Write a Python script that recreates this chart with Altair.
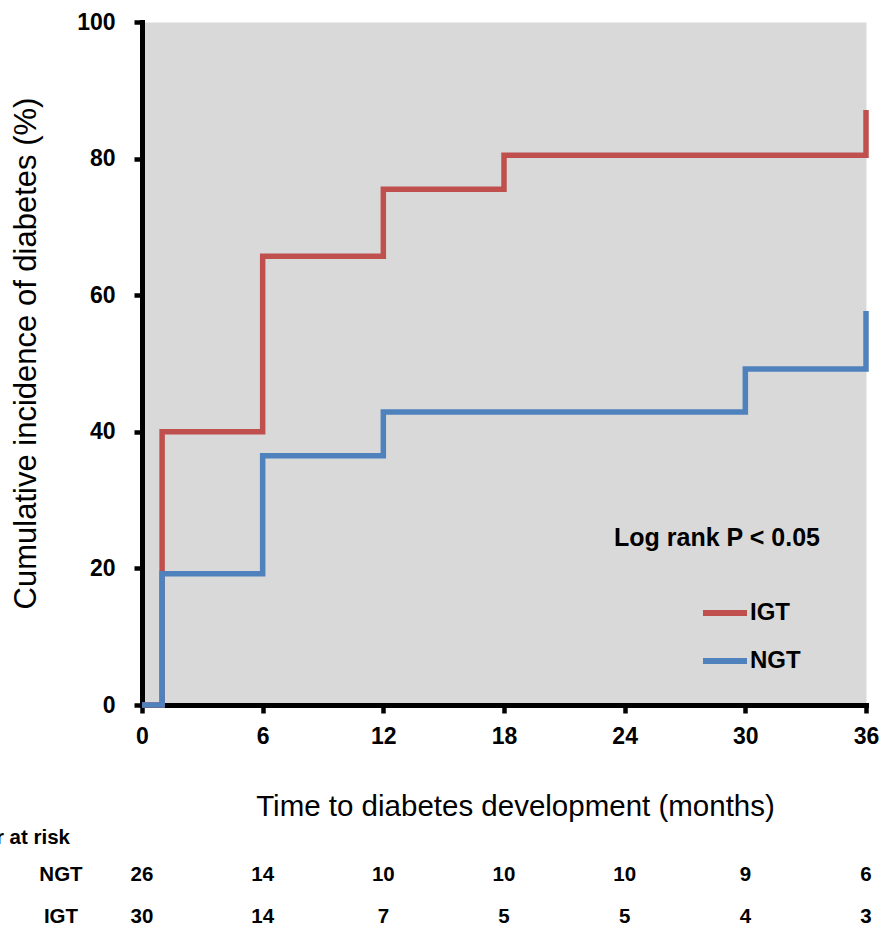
import altair as alt
import pandas as pd

# ---- data ----
groups = ["IGT", "NGT"]
colors = ["#C0504D", "#4F81BD"]

igt_time = [0, 1, 6, 12, 18, 36]
igt_pct = [0, 40.0, 65.7, 75.5, 80.5, 87.1]
ngt_time = [0, 1, 6, 12, 30, 36]
ngt_pct = [0, 19.2, 36.5, 42.9, 49.2, 57.7]

risk_times = [0, 6, 12, 18, 24, 30, 36]
ngt_at_risk = [26, 14, 10, 10, 10, 9, 6]
igt_at_risk = [30, 14, 7, 5, 5, 4, 3]

x_ticks = [0, 6, 12, 18, 24, 30, 36]
y_ticks = [0, 20, 40, 60, 80, 100]

x_title = "Time to diabetes development (months)"
y_title = "Cumulative incidence of diabetes (%)"
stat_text = "Log rank P < 0.05"
risk_title = "Number at risk"

FONT = "Liberation Sans, Arial, sans-serif"

curves = pd.concat([
    pd.DataFrame({"time": igt_time, "pct": igt_pct, "group": "IGT"}),
    pd.DataFrame({"time": ngt_time, "pct": ngt_pct, "group": "NGT"}),
])
risk_ngt = pd.DataFrame({"time": risk_times, "n": ngt_at_risk})
risk_igt = pd.DataFrame({"time": risk_times, "n": igt_at_risk})

x_scale = alt.Scale(domain=[0, 36], nice=False, zero=True)
y_scale = alt.Scale(domain=[0, 100], nice=False)

axis_common = dict(
    grid=False,
    domainColor="black", domainWidth=5, domainCap="square",
    tickColor="black", tickWidth=4.5, tickSize=8,
    labelFont=FONT, labelFontSize=23, labelFontWeight="bold", labelColor="black",
    labelFlush=False, labelOverlap=False,
    titleFont=FONT, titleFontWeight="normal", titleColor="black",
    titleBaseline="alphabetic", titleAlign="center",
)

x_axis = alt.Axis(values=x_ticks, title=x_title, labelPadding=12, titleFontSize=29.5,
                  titleX=373, titleY=110, **axis_common)
y_axis = alt.Axis(values=y_ticks, title=y_title, labelPadding=19, titleFontSize=31,
                  titleX=-107, titleY=331, titleAngle=-90, **axis_common)

x_enc = alt.X("time:Q", scale=x_scale, axis=x_axis)

color_enc = alt.Color(
    "group:N",
    scale=alt.Scale(domain=groups, range=colors),
    legend=alt.Legend(
        orient="none", legendX=558, legendY=566, title=None,
        symbolType="stroke", symbolSize=1936, symbolStrokeWidth=6,
        labelFont=FONT, labelFontSize=24, labelFontWeight="bold",
        labelColor="black", labelOffset=0, rowPadding=11, padding=0,
    ),
)

base = alt.Chart(curves)

igt_line = base.transform_filter(alt.datum.group == "IGT").mark_line(
    interpolate="step-after", strokeWidth=5.5, strokeJoin="miter"
).encode(x=x_enc, y=alt.Y("pct:Q", scale=y_scale, axis=y_axis), color=color_enc)

ngt_line = base.transform_filter(alt.datum.group == "NGT").mark_line(
    interpolate="step-after", strokeWidth=5.5, strokeJoin="miter"
).encode(x=x_enc, y=alt.Y("pct:Q", scale=y_scale, axis=y_axis), color=color_enc)

stat = alt.Chart(pd.DataFrame({"t": [stat_text]})).mark_text(
    font=FONT, fontSize=25, fontWeight="bold", color="black",
    align="center", baseline="middle"
).encode(x=alt.value(575), y=alt.value(516), text="t:N")

table_font = dict(font=FONT, fontSize=20.5, fontWeight="bold", color="black",
                  baseline="middle")

row_ngt = alt.Chart(risk_ngt).mark_text(align="center", **table_font).encode(
    x=x_enc, y=alt.value(853), text="n:Q")
row_igt = alt.Chart(risk_igt).mark_text(align="center", **table_font).encode(
    x=x_enc, y=alt.value(895), text="n:Q")

row_labels = alt.Chart(pd.DataFrame({"g": ["NGT", "IGT"], "yy": [853, 895]})).mark_text(
    align="center", **table_font).encode(
    x=alt.value(-81), y=alt.Y("yy:Q", scale=None), text="g:N")

risk_head = alt.Chart(pd.DataFrame({"t": [risk_title]})).mark_text(
    align="right", **table_font).encode(
    x=alt.value(-72), y=alt.value(816), text="t:N")

chart = alt.layer(
    igt_line, ngt_line, stat, row_ngt, row_igt, row_labels, risk_head
).properties(
    width=724, height=683,
    autosize=alt.AutoSizeParams(type="none"),
    padding={"left": 142, "top": 22, "right": 16, "bottom": 223},
    background="white",
).configure_view(fill="#D9D9D9", stroke="transparent")

chart.save("out.html", embed_options={"renderer": "svg", "actions": False})
